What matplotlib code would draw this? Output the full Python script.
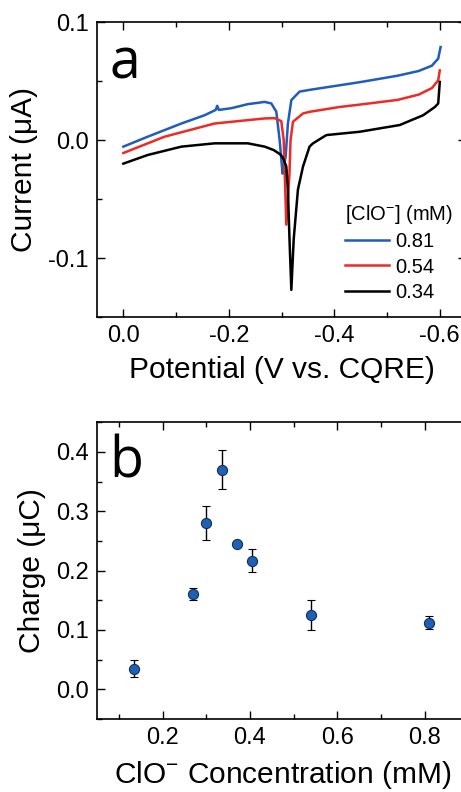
import numpy as np
import matplotlib
matplotlib.use('Agg')
import matplotlib.pyplot as plt
from matplotlib.ticker import MultipleLocator

plt.rcParams['font.family'] = ['Liberation Sans', 'DejaVu Sans']
plt.rcParams['mathtext.fontset'] = 'custom'
plt.rcParams['mathtext.rm'] = 'Liberation Sans'
plt.rcParams['mathtext.it'] = 'Liberation Sans'

# panel a: voltammograms (V, uA)
pot_081 = [0.000, -0.046, -0.110, -0.154, -0.175, -0.178, -0.181, -0.205, -0.236, -0.268,
           -0.2805, -0.290, -0.2963, -0.3013, -0.302, -0.3077, -0.312, -0.3185, -0.334,
           -0.353, -0.448, -0.520, -0.560, -0.585, -0.597, -0.6015]
cur_081 = [-0.0056, 0.0028, 0.0140, 0.0210, 0.0255, 0.0290, 0.0255, 0.0270, 0.0304, 0.0323,
           0.0310, 0.0240, 0.0000, -0.0253, -0.0285, -0.0140, 0.0140, 0.0338, 0.0410,
           0.0425, 0.0490, 0.0545, 0.0585, 0.0630, 0.0690, 0.0788]
pot_054 = [0.000, -0.078, -0.173, -0.268, -0.287, -0.2995, -0.304, -0.306, -0.309, -0.315,
           -0.317, -0.3216, -0.3406, -0.353, -0.410, -0.448, -0.520, -0.560, -0.585, -0.597, -0.600]
cur_054 = [-0.0110, 0.0028, 0.0140, 0.0183, 0.0185, 0.0160, 0.0000, -0.0280, -0.0717, -0.0280,
           0.0000, 0.0155, 0.0225, 0.0239, 0.0280, 0.0300, 0.0340, 0.0385, 0.0440, 0.0506, 0.0590]
pot_034 = [0.000, -0.046, -0.110, -0.173, -0.236, -0.268, -0.285, -0.297, -0.3026, -0.309, -0.312,
           -0.315, -0.3185, -0.323, -0.331, -0.3406, -0.353, -0.3596, -0.385, -0.448, -0.524,
           -0.5685, -0.5907, -0.597, -0.600]
cur_034 = [-0.0200, -0.0127, -0.0056, -0.0028, -0.0028, -0.0056, -0.0085, -0.0120, -0.0150, -0.0225, -0.0420,
           -0.0840, -0.1270, -0.0840, -0.0420, -0.0225, -0.0056, -0.0028, 0.0042, 0.0070, 0.0127,
           0.0210, 0.0280, 0.0310, 0.0492]
labels_a = ['0.81', '0.54', '0.34']

# panel b: charge vs concentration
conc = [0.135, 0.27, 0.30, 0.335, 0.37, 0.405, 0.54, 0.81]
charge = [0.035, 0.160, 0.280, 0.370, 0.245, 0.217, 0.125, 0.112]
charge_err = [0.015, 0.010, 0.029, 0.033, 0.003, 0.020, 0.025, 0.011]

fig = plt.figure(figsize=(4.61, 7.92), dpi=100)

def style(ax):
    ax.tick_params(which='both', direction='in', top=True, right=True, labelsize=17, width=1.0, pad=6)
    ax.tick_params(which='major', length=6)
    ax.tick_params(which='minor', length=3.5)
    for s in ax.spines.values():
        s.set_linewidth(1.2)

# ---- a ----
ax1 = fig.add_axes([0.2104, 0.5997, 0.8008, 0.3725])
ax1.plot(pot_081, cur_081, color='#1f5cc0', lw=1.8, label=labels_a[0])
ax1.plot(pot_054, cur_054, color='#ee2a24', lw=1.8, label=labels_a[1])
ax1.plot(pot_034, cur_034, color='black', lw=1.8, label=labels_a[2])
ax1.set_xlim(0.05, -0.65)
ax1.set_ylim(-0.15, 0.1)
ax1.xaxis.set_minor_locator(MultipleLocator(0.1))
ax1.yaxis.set_minor_locator(MultipleLocator(0.05))
ax1.set_xticks([0.0, -0.2, -0.4, -0.6])
ax1.set_xticklabels(['0.0', '-0.2', '-0.4', '-0.6'])
ax1.set_yticks([-0.1, 0.0, 0.1])
ax1.set_yticklabels(['-0.1', '0.0', '0.1'])
style(ax1)
ax1.set_xlabel('Potential (V vs. CQRE)', fontsize=21.5, labelpad=6)
ax1.set_ylabel('Current (μA)', fontsize=21.5, labelpad=7)
ax1.text(0.033, 0.81, 'a', transform=ax1.transAxes, fontsize=40, family='Open Sans')
leg = ax1.legend(frameon=False, fontsize=14.5, title=r'[ClO$^{-}$] (mM)', title_fontsize=14.5,
                 loc='upper left', bbox_to_anchor=(0.671, 0.385), handlelength=2.2,
                 handletextpad=0.3, labelspacing=0.3, borderaxespad=0, borderpad=0)
leg._legend_box.align = 'left'

# ---- b ----
ax2 = fig.add_axes([0.2104, 0.0922, 0.806, 0.3746])
ax2.errorbar(conc, charge, yerr=charge_err, fmt='o', ms=7.3, mfc='#1f5fb4', mec='#12305a',
             mew=0.8, ecolor='black', elinewidth=1.0, capsize=3, capthick=1.0)
ax2.set_xlim(0.05, 0.9)
ax2.set_ylim(-0.05, 0.45)
ax2.xaxis.set_minor_locator(MultipleLocator(0.1))
ax2.yaxis.set_minor_locator(MultipleLocator(0.05))
ax2.set_xticks([0.2, 0.4, 0.6, 0.8])
ax2.set_yticks([0.0, 0.1, 0.2, 0.3, 0.4])
style(ax2)
ax2.set_xlabel(r'ClO$^{-}$ Concentration (mM)', fontsize=21.5, labelpad=7)
ax2.set_ylabel('Charge (μC)', fontsize=21.5, labelpad=7)
ax2.text(0.033, 0.815, 'b', transform=ax2.transAxes, fontsize=40, family='Open Sans')

fig.savefig('out.png', dpi=100)
